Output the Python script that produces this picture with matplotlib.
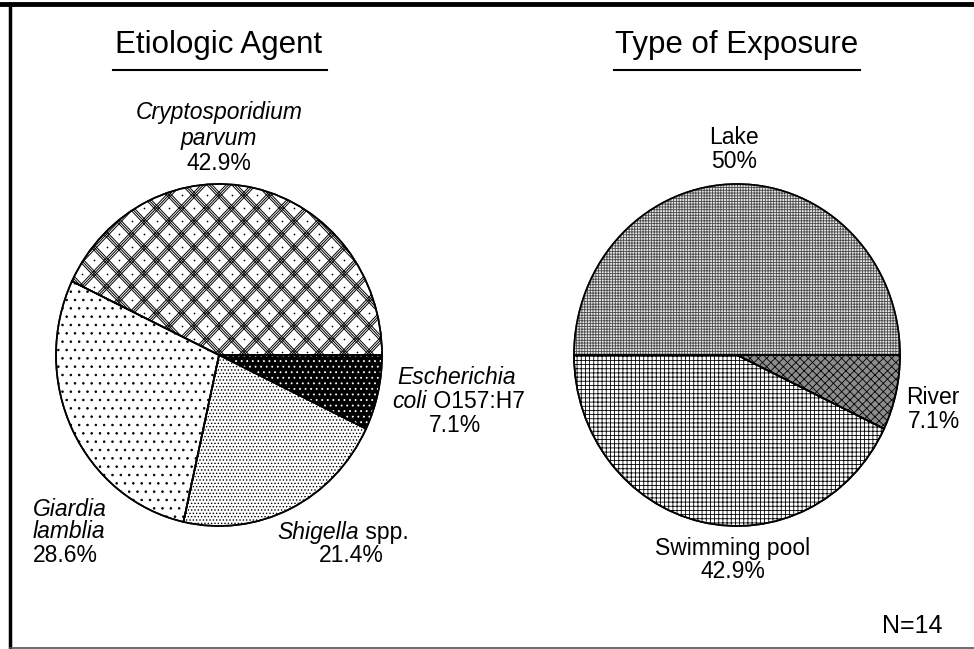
#two hatched pie charts: etiologic agent and type of exposure
import numpy as np
import matplotlib.pyplot as plt
from matplotlib.collections import LineCollection
from matplotlib.patches import Wedge

plt.rcParams['font.family'] = ['Liberation Sans', 'DejaVu Sans']
plt.rcParams['hatch.linewidth'] = 0.6

agent_names = ['Escherichia coli O157:H7', 'Shigella spp.', 'Giardia lamblia',
               'Cryptosporidium parvum']
agent_pct = [7.1, 21.4, 28.6, 42.9]
exposure_names = ['River', 'Swimming pool', 'Lake']
exposure_pct = [7.1, 42.9, 50]
n_total = 14

W, H = 974, 649
R = 163          # horizontal radius in pixels
K = 171 / 163.0  # the pies are a bit taller than wide


def Y(p):
    # pixel row (top-down) -> data y
    return (H - p) / K


def Label(x, y, s, style='normal', ha='center', size=16.5):
    ax.text(x, Y(y), s, ha=ha, va='center', fontsize=size, fontstyle=style)


def Crosslines(wedge, cx, cy):
    # triple diagonal line groups with a dot in each diamond
    period = 25.0
    segs = []
    for k in range(-30, 31):
        for off in (0.0, 2.6, 5.2):
            c = k * period + off
            segs.append([(cx - 400, cy - 400 + c), (cx + 400, cy + 400 + c)])
            segs.append([(cx - 400, cy + 400 + c), (cx + 400, cy - 400 + c)])
    lc = LineCollection(segs, colors='black', linewidths=0.7, zorder=3)
    ax.add_collection(lc)
    lc.set_clip_path(wedge)
    ks = np.arange(-20, 21)
    a, b = np.meshgrid(ks * period + 15.1, ks * period + 15.1)
    px = cx + (a - b) / 2.0
    py = cy + (a + b) / 2.0
    pts = ax.scatter(px.ravel(), py.ravel(), s=1.5, color='black', zorder=3, lw=0)
    pts.set_clip_path(wedge)


fig = plt.figure(figsize=(W / 100, H / 100), dpi=100)
ax = fig.add_axes([0, 0, 1, 1])

c1 = (219, Y(355))
c2 = (737, Y(355))
wp = dict(edgecolor='black', linewidth=1.2, facecolor='white')

w1, _ = ax.pie(agent_pct, center=c1, radius=R, startangle=0, counterclock=False,
               wedgeprops=wp)
w2, _ = ax.pie(exposure_pct, center=c2, radius=R, startangle=0, counterclock=False,
               wedgeprops=wp)

# etiologic agent fills
w1[0].set_facecolor('black')
over = Wedge(w1[0].center, w1[0].r, w1[0].theta1, w1[0].theta2, facecolor='none',
             edgecolor='white', hatch='...', linewidth=0, zorder=2)
ax.add_patch(over)
w1[1].set_hatch('.....')
w1[2].set_hatch('..')
Crosslines(w1[3], c1[0], c1[1])

# exposure fills
w2[0].set_facecolor('#8c8c8c')
w2[0].set_hatch('xxxx')
w2[1].set_hatch('++++')
w2[2].set_facecolor('#e6e6e6')
w2[2].set_edgecolor('#4a4a4a')
w2[2].set_hatch('++++++')

# outlines on top
for w in list(w1) + list(w2):
    ax.add_patch(Wedge(w.center, w.r, w.theta1, w.theta2, facecolor='none',
                       edgecolor='black', linewidth=1.2, zorder=4))

# titles
ax.text(219, Y(53), 'Etiologic Agent', ha='center', va='baseline', fontsize=22.5)
ax.plot([113, 327], [Y(70), Y(70)], color='black', lw=1.5)
ax.text(737, Y(53), 'Type of Exposure', ha='center', va='baseline', fontsize=22.5)
ax.plot([614, 860], [Y(70), Y(70)], color='black', lw=1.5)

# agent labels
Label(219, 113, 'Cryptosporidium', 'italic')
Label(219, 138, 'parvum', 'italic')
Label(219, 163, f'{agent_pct[3]}%')
Label(457, 378, 'Escherichia', 'italic')
Label(427, 401, 'coli', 'italic', ha='right')
Label(427, 401, ' O157:H7', ha='left')
Label(455, 425, f'{agent_pct[0]}%')
Label(33, 509, 'Giardia', 'italic', ha='left')
Label(33, 531, 'lamblia', 'italic', ha='left')
Label(33, 555, f'{agent_pct[2]}%', ha='left')
Label(359, 532, 'Shigella', 'italic', ha='right')
Label(359, 532, ' spp.', ha='left')
Label(351, 556, f'{agent_pct[1]}%')

# exposure labels
Label(734, 138, exposure_names[2])
Label(734, 162, f'{exposure_pct[2]:g}%')
Label(933, 397, exposure_names[0])
Label(934, 421, f'{exposure_pct[0]}%')
Label(733, 548, exposure_names[1])
Label(733, 572, f'{exposure_pct[1]}%')

ax.text(912, Y(626), f'N={n_total}', ha='center', va='center', fontsize=18)

# frame
ax.plot([0, W], [Y(4), Y(4)], color='black', lw=3.5)
ax.plot([9.5, 9.5], [Y(4), Y(649)], color='black', lw=2.5)
ax.plot([9.5, W], [Y(647.5), Y(647.5)], color='#555555', lw=1.2)

ax.set_xlim(0, W)
ax.set_ylim(0, H / K)
ax.set_aspect('auto')
ax.axis('off')

plt.savefig('out.png', dpi=100)
plt.close()
